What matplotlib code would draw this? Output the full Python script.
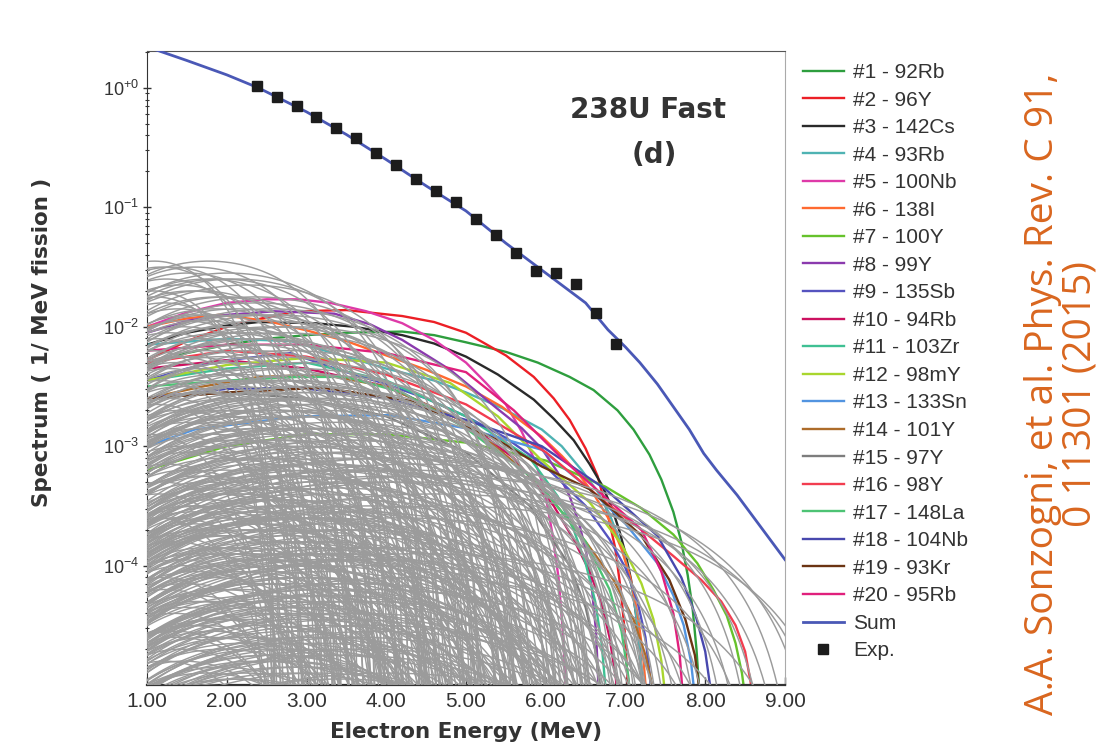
import matplotlib
matplotlib.use('Agg')
import matplotlib.pyplot as plt
import matplotlib.ticker as mticker
import numpy as np

plt.rcParams['font.family'] = ['Liberation Sans', 'DejaVu Sans']
plt.rcParams['mathtext.fontset'] = 'custom'
plt.rcParams['mathtext.rm'] = 'Liberation Sans'
plt.rcParams['mathtext.it'] = 'Liberation Sans:italic'
plt.rcParams['mathtext.bf'] = 'Liberation Sans:bold'

# ---- data (energies in MeV, spectra as log10 values) ----
labels = ['#1 - 92Rb', '#2 - 96Y', '#3 - 142Cs', '#4 - 93Rb', '#5 - 100Nb',
          '#6 - 138I', '#7 - 100Y', '#8 - 99Y', '#9 - 135Sb', '#10 - 94Rb',
          '#11 - 103Zr', '#12 - 98mY', '#13 - 133Sn', '#14 - 101Y', '#15 - 97Y',
          '#16 - 98Y', '#17 - 148La', '#18 - 104Nb', '#19 - 93Kr', '#20 - 95Rb']
colors = ['#2e9e3e', '#ec1f26', '#2a2a2a', '#4fb3b3', '#de3aa8',
          '#ff6a30', '#66c22c', '#8b3aae', '#5553bf', '#cc1160',
          '#3fc093', '#a9d62e', '#5294e0', '#ad6c2a', '#7d7d7d',
          '#f23d50', '#4dc374', '#4848ae', '#6b3413', '#e0207c']

top_e = [
    [1.0, 1.5, 2.0, 2.5, 3.0, 3.5, 4.2, 4.6, 5.0, 5.5, 5.9, 6.3, 6.6, 6.9, 7.1, 7.3, 7.45, 7.6, 7.7, 7.78, 7.84, 7.89, 7.93, 7.96],
    [1.0, 1.5, 2.0, 2.5, 2.9, 3.5, 4.2, 4.6, 5.0, 5.5, 5.85, 6.1, 6.3, 6.5, 6.65, 6.77, 6.87, 6.94, 6.99, 7.03, 7.06],
    [1.0, 1.5, 2.0, 2.4, 3.1, 3.6, 4.2, 4.6, 5.0, 5.4, 5.85, 6.1, 6.35, 6.55, 6.7, 6.82, 6.92, 7.0, 7.07, 7.13, 7.18, 7.22, 7.25],
    [1.0, 2.0, 2.8, 3.5, 4.0, 4.6, 5.0, 5.45, 5.95, 6.2, 6.45, 6.65, 6.8, 6.92, 7.02, 7.1, 7.16, 7.2, 7.23],
    [1.0, 1.5, 2.0, 2.5, 2.9, 3.3, 3.75, 4.2, 4.6, 5.0, 5.25, 5.5, 5.7, 5.85, 5.98, 6.08, 6.16, 6.22, 6.26, 6.29],
    [1.0, 1.5, 1.9, 2.5, 3.0, 3.5, 4.0, 4.5, 5.0, 5.45, 5.95, 6.2, 6.4, 6.6, 6.8, 6.95, 7.06, 7.15, 7.22, 7.27, 7.31],
    [1.0, 2.0, 3.0, 4.0, 5.0, 6.0, 6.75, 7.2, 7.6, 7.9, 8.1, 8.27, 8.38, 8.46, 8.52, 8.56],
    [1.0, 1.5, 2.0, 2.6, 3.35, 3.8, 4.2, 4.8, 5.4, 5.7, 5.95, 6.15, 6.3, 6.42, 6.51, 6.58, 6.63, 6.66, 6.685],
    [1.0, 1.5, 2.0, 2.8, 3.4, 4.0, 4.5, 5.0, 5.5, 6.0, 6.5, 6.8, 7.0, 7.15, 7.25, 7.31, 7.35],
    [1.0, 2.0, 3.0, 4.0, 5.0, 5.6, 6.1, 6.35, 6.55, 6.7, 6.8, 6.88, 6.93],
    [1.0, 2.0, 3.0, 4.0, 5.0, 5.8, 6.15, 6.35, 6.5, 6.62, 6.7, 6.76, 6.79],
    [1.0, 2.0, 3.0, 4.0, 4.8, 5.4, 5.95, 6.55, 6.95, 7.2, 7.35, 7.45, 7.51, 7.55],
    [1.0, 1.6, 2.9, 4.05, 5.0, 5.95, 6.55, 7.0, 7.4, 7.6, 7.73, 7.82, 7.87, 7.9],
    [1.0, 1.7, 2.4, 3.2, 4.0, 5.0, 5.9, 6.5, 6.85, 7.1, 7.25, 7.35, 7.41],
    [1.0, 2.0, 3.0, 4.0, 5.0, 5.8, 6.3, 6.5, 6.62, 6.7, 6.74],
    [1.0, 2.0, 3.0, 4.0, 5.0, 6.0, 6.75, 7.2, 7.6, 7.95, 8.2, 8.38, 8.5, 8.57, 8.61],
    [1.0, 2.0, 2.9, 3.5, 4.2, 5.0, 5.9, 6.5, 6.8, 6.95, 7.04, 7.09],
    [1.0, 2.0, 2.9, 4.0, 5.0, 5.95, 6.75, 7.4, 7.7, 7.88, 8.0, 8.07, 8.11],
    [1.0, 2.0, 3.2, 4.3, 5.4, 5.95, 6.55, 7.2, 7.55, 7.75, 7.87, 7.93, 7.97],
    [1.0, 2.0, 3.0, 4.0, 5.0, 5.6, 6.2, 6.7, 7.2, 7.45, 7.6, 7.68, 7.72, 7.745],
]
top_lg = [
    [-2.32, -2.22, -2.15, -2.10, -2.07, -2.05, -2.04, -2.07, -2.13, -2.21, -2.30, -2.42, -2.53, -2.70, -2.86, -3.07, -3.28, -3.55, -3.80, -4.08, -4.35, -4.70, -5.1, -5.8],
    [-2.28, -2.12, -2.0, -1.92, -1.87, -1.86, -1.91, -1.96, -2.05, -2.24, -2.42, -2.6, -2.78, -3.02, -3.25, -3.55, -3.85, -4.2, -4.55, -5.0, -5.8],
    [-2.15, -2.05, -1.99, -1.96, -1.97, -2.0, -2.07, -2.14, -2.25, -2.40, -2.61, -2.77, -2.95, -3.15, -3.32, -3.5, -3.7, -3.9, -4.12, -4.4, -4.7, -5.1, -5.8],
    [-2.15, -2.1, -2.12, -2.25, -2.35, -2.45, -2.55, -2.68, -2.86, -3.0, -3.2, -3.38, -3.57, -3.78, -4.0, -4.25, -4.55, -4.9, -5.5],
    [-2.0, -1.88, -1.80, -1.77, -1.77, -1.80, -1.87, -1.97, -2.11, -2.30, -2.47, -2.65, -2.88, -3.1, -3.35, -3.72, -4.1, -4.6, -5.2, -6.0],
    [-2.0, -1.93, -1.9, -1.95, -2.03, -2.12, -2.24, -2.36, -2.5, -2.67, -2.92, -3.08, -3.22, -3.4, -3.62, -3.86, -4.1, -4.4, -4.75, -5.15, -5.9],
    [-3.2, -3.0, -2.9, -2.9, -2.97, -3.12, -3.34, -3.52, -3.74, -3.98, -4.2, -4.42, -4.65, -4.9, -5.2, -5.6],
    [-2.05, -1.95, -1.9, -1.87, -1.89, -1.98, -2.11, -2.36, -2.69, -2.85, -3.02, -3.22, -3.42, -3.65, -3.9, -4.2, -4.55, -5.0, -5.8],
    [-2.45, -2.35, -2.28, -2.22, -2.36, -2.48, -2.6, -2.75, -2.93, -3.17, -3.5, -3.78, -4.02, -4.3, -4.6, -4.95, -5.4],
    [-2.35, -2.28, -2.35, -2.5, -2.8, -3.1, -3.5, -3.78, -4.05, -4.32, -4.6, -4.95, -5.4],
    [-2.45, -2.35, -2.3, -2.45, -2.75, -3.1, -3.42, -3.7, -3.98, -4.3, -4.65, -5.1, -5.6],
    [-2.45, -2.32, -2.26, -2.3, -2.47, -2.75, -3.12, -3.47, -3.82, -4.15, -4.45, -4.8, -5.15, -5.6],
    [-3.0, -2.86, -2.75, -2.74, -2.85, -3.03, -3.36, -3.65, -3.98, -4.25, -4.5, -4.8, -5.1, -5.5],
    [-2.6, -2.5, -2.42, -2.4, -2.5, -2.8, -3.3, -3.8, -4.12, -4.45, -4.75, -5.05, -5.4],
    [-2.6, -2.55, -2.6, -2.75, -3.05, -3.5, -4.0, -4.35, -4.7, -5.1, -5.6],
    [-2.3, -2.2, -2.25, -2.4, -2.65, -3.05, -3.47, -3.7, -3.92, -4.12, -4.3, -4.5, -4.72, -4.98, -5.3],
    [-2.5, -2.45, -2.42, -2.42, -2.55, -2.85, -3.3, -3.8, -4.2, -4.55, -4.95, -5.5],
    [-2.6, -2.52, -2.51, -2.6, -2.78, -3.0, -3.36, -3.75, -4.1, -4.42, -4.72, -5.05, -5.5],
    [-2.6, -2.55, -2.51, -2.62, -2.95, -3.17, -3.36, -3.75, -4.12, -4.45, -4.75, -5.05, -5.6],
    [-2.2, -2.15, -2.15, -2.22, -2.38, -2.7, -3.1, -3.4, -3.7, -4.05, -4.4, -4.75, -5.1, -5.6],
]

sum_e = [1.0, 1.5, 2.0, 2.4, 3.0, 3.5, 4.0, 4.5, 5.0, 5.5, 6.0, 6.5, 6.78, 7.0,
         7.18, 7.4, 7.6, 7.8, 7.98, 8.14, 8.4, 8.6, 8.8, 9.0]
sum_lg = [0.345, 0.23, 0.11, 0.0, -0.20, -0.39, -0.60, -0.82, -1.03, -1.30, -1.55,
          -1.80, -2.025, -2.17, -2.30, -2.48, -2.67, -2.86, -3.06, -3.20, -3.41,
          -3.59, -3.77, -3.95]

exp_e = [2.375, 2.625, 2.875, 3.125, 3.375, 3.625, 3.875, 4.125, 4.375, 4.625,
         4.875, 5.125, 5.375, 5.625, 5.875, 6.125, 6.375, 6.625, 6.875]
exp_y = [1.04, 0.846, 0.707, 0.575, 0.460, 0.380, 0.284, 0.227, 0.172, 0.136,
         0.110, 0.0802, 0.0589, 0.0414, 0.0294, 0.0281, 0.0228, 0.0130, 0.00716]

# remaining nuclides (grey): endpoint energy and log10 of the spectrum maximum
grey_e0 = [2.6, 2.7, 2.8, 2.85, 2.9, 3.0, 3.05, 3.1, 3.15, 3.2, 3.25, 3.3, 3.35, 3.4, 3.45, 3.5, 3.55, 3.6, 2.75, 3.12,
           3.65, 3.7, 3.75, 3.8, 3.85, 3.9, 3.95, 4.0, 4.05, 4.1, 4.15, 4.2, 4.25, 4.3, 4.35, 4.4, 4.45, 4.5, 4.55, 4.6,
           3.72, 3.88, 4.02, 4.18, 4.33, 4.48,
           4.65, 4.7, 4.75, 4.8, 4.85, 4.9, 4.95, 5.0, 5.05, 5.1, 5.15, 5.2, 5.25, 5.3, 5.35, 5.4, 5.45, 5.5, 5.55, 5.6,
           4.72, 4.83, 4.97, 5.08, 5.18, 5.28, 5.38, 5.48, 5.58, 4.92,
           5.65, 5.7, 5.75, 5.8, 5.85, 5.9, 5.95, 6.0, 6.05, 6.1, 6.15, 6.2, 6.25, 6.3, 6.35, 6.4, 6.45, 6.5, 6.55, 6.6,
           5.68, 5.78, 5.88, 5.98, 6.08, 6.18, 6.28, 6.38, 6.48, 6.58,
           6.65, 6.7, 6.75, 6.8, 6.85, 6.9, 6.95, 7.0, 7.05, 7.1, 7.15, 7.2, 7.25, 7.3, 7.35, 7.4, 7.45, 7.5, 7.55, 7.6,
           6.72, 6.88, 7.02, 7.22, 7.42,
           7.65, 7.7, 7.8, 7.85, 7.9, 8.0, 8.05, 8.1, 8.2, 8.25, 8.3, 8.4, 8.45, 8.5, 8.6,
           8.7, 8.8, 8.9, 9.0, 9.1, 9.2, 9.35, 9.5, 9.7, 9.9,
           3.3, 3.9, 4.4, 4.6, 5.1, 5.3, 5.6, 5.9, 6.1, 6.4, 6.7, 6.9, 7.1, 7.3, 7.7, 8.0, 3.6, 4.1, 4.8, 5.4,
           5.75, 6.25, 6.6, 7.0, 7.5, 4.25, 5.05, 5.95, 6.8, 7.9,
           2.95, 3.18, 3.42, 3.58, 3.78, 3.93, 4.08, 4.22, 4.38, 4.52, 4.68, 4.78, 4.88, 5.02, 5.12, 5.22, 5.32, 5.42, 5.52, 5.62,
           5.72, 5.82, 5.92, 6.02, 6.12, 6.22, 6.32, 6.42, 6.52, 6.62, 6.78, 6.92, 7.08, 7.18, 7.28, 7.38, 7.48, 7.58, 7.75, 7.95,
           2.65, 2.88, 3.08, 3.28, 3.48, 3.68, 3.82, 3.98, 4.12, 4.28, 4.42, 4.58, 4.74, 4.86, 4.98, 5.14, 5.24, 5.34, 5.44, 5.54,
           5.66, 5.76, 5.86, 5.96, 6.06, 6.16, 6.26, 6.36, 6.46, 6.56, 6.68, 6.84, 6.98, 7.12, 7.32, 7.46, 7.62, 7.82, 8.15, 8.35,
           2.55, 2.72, 2.92, 3.14, 3.38, 3.52, 3.62, 3.76, 3.86, 4.06, 4.16, 4.26, 4.36, 4.46, 4.56, 4.62, 4.76, 4.9, 5.06, 5.16,
           5.26, 5.36, 5.46, 5.56, 5.64, 5.74, 5.84, 5.94, 6.04, 6.14, 6.24, 6.34, 6.44, 6.54, 6.64, 6.74, 6.94, 7.04, 7.24, 7.44,
           2.58, 2.68, 2.78, 2.98, 3.02, 3.22, 3.32, 3.44, 3.54, 3.64, 3.74, 3.84, 3.96, 4.04, 4.14, 4.24, 4.34, 4.44, 4.54, 4.64,
           4.71, 4.81, 4.91, 5.01, 5.11, 5.21, 5.31, 5.41, 5.51, 5.61, 5.71, 5.81, 5.91, 6.01, 6.11, 6.21, 6.31, 6.41, 6.51, 6.61,
           2.5, 2.62, 2.82, 2.98, 3.16, 3.26, 3.36, 3.46, 3.56, 3.66, 3.79, 3.91, 4.01, 4.11, 4.21, 4.31, 4.41, 4.51, 4.61, 4.69,
           4.79, 4.89, 4.99, 5.09, 5.19, 5.29, 5.39, 5.49, 5.59, 5.69, 5.79, 5.89, 5.99, 6.09, 6.19, 6.29, 6.39, 6.49, 6.59, 6.69]
grey_lg = [-1.45, -2.1, -3.3, -1.8, -4.2, -2.6, -1.5, -3.8, -2.3, -4.6, -1.65, -3.0, -2.0, -4.0, -1.55, -2.8, -3.5, -1.9, -2.45, -4.4,
           -1.5, -2.7, -3.9, -1.7, -4.5, -2.2, -3.3, -1.45, -2.9, -4.1, -1.85, -3.6, -2.4, -1.6, -4.7, -3.1, -2.05, -1.55, -3.75, -2.6,
           -4.3, -1.95, -3.45, -2.15, -4.85, -1.75,
           -1.6, -2.5, -3.4, -4.2, -1.9, -2.8, -3.7, -1.65, -4.6, -2.2, -3.1, -1.8, -3.95, -2.65, -4.4, -1.95, -3.25, -2.35, -4.75, -1.85,
           -3.0, -4.05, -2.05, -3.55, -1.75, -4.5, -2.9, -3.8, -2.45, -4.9,
           -1.9, -2.6, -3.5, -4.3, -2.05, -2.95, -3.8, -4.65, -2.2, -3.25, -2.0, -4.1, -2.75, -3.6, -2.3, -4.45, -3.05, -2.5, -3.9, -2.4,
           -4.8, -2.15, -3.35, -4.0, -2.85, -3.7, -2.55, -4.25, -3.15, -2.65,
           -2.5, -3.2, -4.0, -2.7, -3.6, -4.5, -2.6, -3.0, -3.9, -2.75, -4.3, -3.35, -2.8, -4.7, -3.1, -2.9, -3.75, -4.15, -2.95, -3.45,
           -4.9, -3.8, -2.65, -4.4, -3.05,
           -3.0, -3.7, -4.4, -3.2, -3.95, -4.7, -3.05, -3.5, -4.2, -3.3, -4.55, -3.1, -3.85, -4.9, -3.25,
           -3.1, -3.6, -3.2, -4.1, -3.3, -3.15, -3.9, -3.25, -3.4, -3.5,
           -4.7, -5.0, -3.9, -5.2, -4.35, -3.65, -5.1, -4.0, -4.85, -3.85, -5.3, -4.25, -3.7, -4.95, -4.6, -5.4, -3.55, -4.55, -5.35, -4.15,
           -3.45, -5.05, -4.1, -3.95, -5.15, -3.75, -4.45, -5.25, -4.65, -4.3,
           -3.15, -2.25, -4.15, -3.65, -2.55, -4.9, -3.35, -2.75, -4.45, -3.05, -2.3, -3.85, -4.65, -2.6, -3.45, -4.25, -2.85, -3.7, -5.0, -2.7,
           -3.2, -4.35, -2.95, -3.75, -4.55, -3.0, -3.55, -4.85, -2.9, -3.3, -3.15, -4.05, -2.85, -3.65, -4.25, -3.4, -4.75, -3.2, -3.55, -4.0,
           -3.6, -4.8, -2.9, -3.95, -4.5, -3.25, -5.1, -3.85, -4.3, -3.55, -5.2, -4.0, -3.35, -4.95, -3.9, -4.15, -5.25, -3.6, -4.7, -4.05,
           -5.15, -3.45, -4.8, -4.3, -3.5, -5.0, -4.4, -3.8, -5.3, -4.1, -3.95, -4.6, -4.2, -5.05, -3.9, -4.45, -3.85, -4.15, -4.5, -3.95,
           -2.2, -3.4, -1.6, -4.55, -1.95, -3.05, -4.25, -2.35, -3.7, -1.9, -4.45, -2.8, -3.2, -2.0, -4.05, -2.95, -4.6, -2.45, -3.65, -2.1,
           -4.8, -3.35, -2.6, -3.95, -2.0, -4.4, -2.7, -3.6, -4.9, -2.45, -3.9, -2.85, -4.6, -3.4, -2.55, -4.2, -3.15, -4.75, -3.55, -2.95,
           -1.7, -2.65, -1.5, -2.35, -3.75, -1.85, -2.5, -4.35, -1.7, -2.45, -3.0, -2.1, -1.6, -2.55, -3.4, -1.75, -2.25, -3.5, -2.0, -2.7,
           -1.85, -2.4, -3.3, -2.15, -1.9, -2.55, -3.15, -2.1, -2.85, -2.25, -2.7, -3.1, -2.45, -3.45, -2.6, -2.35, -3.25, -2.75, -3.6, -2.6,
           -2.9, -1.75, -4.1, -2.05, -3.6, -2.7, -4.8, -3.2, -2.25, -4.05, -3.5, -2.85, -4.6, -3.25, -2.7, -4.2, -3.85, -2.45, -4.95, -3.4,
           -2.95, -4.3, -3.65, -2.75, -5.1, -3.1, -4.5, -3.55, -2.95, -4.75, -3.9, -3.35, -5.0, -4.15, -3.6, -4.7, -3.85, -4.35, -2.85, -3.5]

y_ticks = [1e0, 1e-1, 1e-2, 1e-3, 1e-4]
y_ticklabels = [r'$10^{+0}$', r'$10^{-1}$', r'$10^{-2}$', r'$10^{-3}$', r'$10^{-4}$']
x_ticks = [1, 2, 3, 4, 5, 6, 7, 8, 9]


def beta_shape(e, e0):
    """Allowed beta spectrum shape p*W*(W0-W)^2 (no Coulomb correction)."""
    w = 1.0 + e / 0.511
    w0 = 1.0 + e0 / 0.511
    p = np.sqrt(w * w - 1.0)
    return p * w * (w0 - w) ** 2


def draw_grey(ax, e0, lg):
    e = np.linspace(1.0, e0, 400)[:-1]
    peak = beta_shape(np.linspace(0.01, e0, 600), e0).max()
    ax.plot(e, 10 ** lg * beta_shape(e, e0) / peak, color='#9b9b9b', lw=1.05, zorder=3)


fig = plt.figure(figsize=(11.15, 7.52), dpi=100)
ax = fig.add_axes([147 / 1115, 1 - 685 / 752, 638 / 1115, 634 / 752])
ax.set_yscale('log')

handles = []
for e, lg, c, lab in zip(top_e, top_lg, colors, labels):
    h, = ax.plot(e, 10 ** np.array(lg), color=c, lw=1.7, label=lab, zorder=2)
    handles.append(h)

for e0, lg in zip(grey_e0, grey_lg):
    draw_grey(ax, e0, lg)

h, = ax.plot(sum_e, 10 ** np.array(sum_lg), color='#4a58b6', lw=2.0, label='Sum', zorder=5)
handles.append(h)
h, = ax.plot(exp_e, exp_y, ls='none', marker='s', ms=7.5, color='#1c1c1c', label='Exp.', zorder=6)
handles.append(h)

ax.set_xlim(1, 9)
ax.set_ylim(1e-5, 2.04)
ax.set_xticks(x_ticks)
ax.set_xticklabels(['%.2f' % v for v in x_ticks])
ax.set_yticks(y_ticks)
ax.set_yticklabels(y_ticklabels)
ax.yaxis.set_minor_locator(mticker.LogLocator(base=10, subs=np.arange(2, 10), numticks=20))
ax.yaxis.set_minor_formatter(mticker.NullFormatter())
ax.tick_params(axis='x', direction='in', length=6, width=1, labelsize=15, colors='#333333', pad=5)
ax.tick_params(axis='y', which='major', direction='inout', length=6, width=1, labelsize=13, colors='#333333', pad=3)
ax.tick_params(axis='y', which='minor', direction='inout', length=3, width=0.8, colors='#333333')

ax.spines['bottom'].set_linewidth(1.6)
ax.spines['bottom'].set_color('#333333')
ax.spines['left'].set_color('#333333')
ax.spines['top'].set_color('#555555')
ax.spines['right'].set_color('#aaaaaa')

ax.text(0.785, 0.907, '238U Fast', transform=ax.transAxes, ha='center', va='center',
        fontsize=20, fontweight='bold', color='#333333', family='DejaVu Sans')
ax.text(0.795, 0.836, '(d)', transform=ax.transAxes, ha='center', va='center',
        fontsize=20, fontweight='bold', color='#333333', family='DejaVu Sans')

fig.text(466 / 1115, 1 - 732 / 752, 'Electron Energy (MeV)', ha='center', va='center',
         fontsize=15.5, fontweight='bold', color='#333333', family='DejaVu Sans')
fig.text(42 / 1115, 1 - 342 / 752, 'Spectrum ( 1/ MeV fission )', ha='center', va='center',
         rotation=90, fontsize=15.5, fontweight='bold', color='#333333', family='DejaVu Sans')

fig.legend(handles, [hh.get_label() for hh in handles], loc='upper left',
           bbox_to_anchor=(803 / 1115, 1 - 63 / 752), frameon=False, fontsize=15,
           handlelength=1.95, labelspacing=0.41, handletextpad=0.45,
           borderaxespad=0, borderpad=0, labelcolor='#333333')

fig.text(1062 / 1115, 1 - 394 / 752, 'A.A. Sonzogni, et al. Phys. Rev. C 91,\n0 11301 (2015)',
         rotation=90, ha='center', va='center', multialignment='center',
         fontsize=28, color='#d9661f', family=['Open Sans', 'DejaVu Sans'], linespacing=1.0)

fig.savefig('out.png', dpi=100)
